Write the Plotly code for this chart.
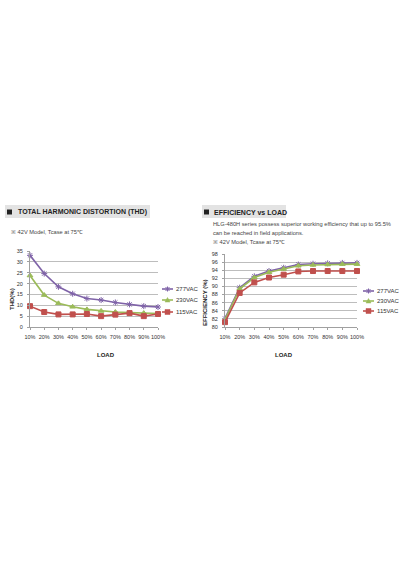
import plotly.graph_objects as go

W, H = 400, 567

loads = [10, 20, 30, 40, 50, 60, 70, 80, 90, 100]
load_labels = ["10%", "20%", "30%", "40%", "50%", "60%", "70%", "80%", "90%", "100%"]

thd_277 = [33.0, 24.6, 18.5, 15.3, 13.1, 12.4, 11.3, 10.4, 9.6, 9.2]
thd_230 = [23.7, 14.7, 10.9, 9.3, 8.1, 7.4, 6.9, 6.6, 6.4, 6.2]
thd_115 = [9.6, 6.9, 5.8, 5.8, 6.0, 5.0, 5.7, 6.4, 5.0, 6.0]

eff_277 = [82.1, 89.7, 92.5, 93.8, 94.6, 95.4, 95.6, 95.7, 95.8, 95.8]
eff_230 = [81.8, 89.4, 92.2, 93.5, 94.3, 95.1, 95.3, 95.4, 95.5, 95.5]
eff_115 = [81.2, 88.4, 91.0, 92.2, 92.9, 93.7, 93.8, 93.8, 93.8, 93.8]

series_names = ["277VAC", "230VAC", "115VAC"]
colors = ["#7f63a8", "#9bbb59", "#c0504d"]
symbols = ["asterisk-open", "triangle-up", "square"]


def px(x):
    return x / W


def py(y):
    return 1 - y / H


fig = go.Figure()

for vals, name, c, s in zip([thd_277, thd_230, thd_115], series_names, colors, symbols):
    fig.add_trace(go.Scatter(
        x=loads, y=vals, mode="lines+markers", name=name, showlegend=False,
        cliponaxis=False,
        line=dict(color=c, width=1.6),
        marker=dict(symbol=s, size=5, color=c, line=dict(color=c, width=1)),
        xaxis="x", yaxis="y"))

for vals, name, c, s in zip([eff_277, eff_230, eff_115], series_names, colors, symbols):
    fig.add_trace(go.Scatter(
        x=loads, y=vals, mode="lines+markers", name=name, showlegend=False,
        cliponaxis=False,
        line=dict(color=c, width=1.6),
        marker=dict(symbol=s, size=5, color=c, line=dict(color=c, width=1)),
        xaxis="x2", yaxis="y2"))

tickfont = dict(family="Liberation Sans, Arial", size=5.5, color="#333333")
axis_common = dict(gridcolor="#bdbdbd", gridwidth=1, automargin=False,
                   showline=True, linecolor="#a0a0a0", linewidth=1,
                   zeroline=False, ticks="outside", ticklen=2, tickcolor="#a0a0a0",
                   tickfont=tickfont, fixedrange=True)

fig.update_layout(
    template="none",
    width=W, height=H, margin=dict(l=0, r=0, t=0, b=0, pad=0), autosize=False,
    paper_bgcolor="white", plot_bgcolor="white",
    xaxis=dict(domain=[px(30), px(158)], range=[10, 100], tickvals=loads,
               ticktext=load_labels, showgrid=False, anchor="y", tickangle=0,
               ticklabelstandoff=2, **axis_common),
    yaxis=dict(domain=[py(327), py(251)], range=[0, 35], dtick=5, anchor="x",
               showgrid=True, ticklabelstandoff=3, **axis_common),
    xaxis2=dict(domain=[px(225), px(357)], range=[10, 100], tickvals=loads,
                ticktext=load_labels, showgrid=False, anchor="y2", tickangle=0,
                ticklabelstandoff=2, **axis_common),
    yaxis2=dict(domain=[py(327), py(254)], range=[80, 98], dtick=2, anchor="x2",
                showgrid=True, ticklabelstandoff=3, **axis_common),
)

shapes = []
annotations = []

# title bars
shapes.append(dict(type="rect", xref="paper", yref="paper", x0=px(5), x1=px(150),
                   y0=py(218), y1=py(205), fillcolor="#e3e3e3", line=dict(width=0), layer="below"))
shapes.append(dict(type="rect", xref="paper", yref="paper", x0=px(202), x1=px(286),
                   y0=py(218), y1=py(205), fillcolor="#e3e3e3", line=dict(width=0), layer="below"))
for x0 in (7, 204):
    shapes.append(dict(type="rect", xref="paper", yref="paper", x0=px(x0), x1=px(x0 + 5),
                       y0=py(214.5), y1=py(209.5), fillcolor="#222222", line=dict(width=0)))

title_font = dict(family="Liberation Sans, Arial", size=7, color="#222222")
annotations.append(dict(text="<b>TOTAL HARMONIC DISTORTION (THD)</b>", x=px(16), y=py(212),
                        xref="paper", yref="paper", xanchor="left", yanchor="middle",
                        showarrow=False, font=title_font))
annotations.append(dict(text="<b>EFFICIENCY vs LOAD</b>", x=px(212), y=py(212),
                        xref="paper", yref="paper", xanchor="left", yanchor="middle",
                        showarrow=False, font=title_font))

small = dict(family="Liberation Sans, Arial", size=5.7, color="#444444")
annotations.append(dict(text="※ 42V Model, Tcase at 75℃", x=px(9), y=py(232),
                        xref="paper", yref="paper", xanchor="left", yanchor="middle",
                        showarrow=False, font=small))
annotations.append(dict(text="HLG-480H series possess superior working efficiency that up to 95.5%",
                        x=px(211), y=py(224), xref="paper", yref="paper", xanchor="left",
                        yanchor="middle", showarrow=False, font=small))
annotations.append(dict(text="can be reached in field applications.",
                        x=px(211), y=py(233), xref="paper", yref="paper", xanchor="left",
                        yanchor="middle", showarrow=False, font=small))
annotations.append(dict(text="※ 42V Model, Tcase at 75℃", x=px(211), y=py(242),
                        xref="paper", yref="paper", xanchor="left", yanchor="middle",
                        showarrow=False, font=small))

bold_small = dict(family="Liberation Sans, Arial", size=6, color="#222222")
annotations.append(dict(text="<b>THD(%)</b>", x=px(7), y=py(299), xref="paper", yref="paper",
                        textangle=-90, showarrow=False, font=bold_small))
annotations.append(dict(text="<b>EFFICIENCY (%)</b>", x=px(205), y=py(302), xref="paper",
                        yref="paper", textangle=-90, showarrow=False, font=bold_small))
annotations.append(dict(text="<b>LOAD</b>", x=px(95), y=py(355), xref="paper", yref="paper",
                        showarrow=False, font=bold_small))
annotations.append(dict(text="<b>LOAD</b>", x=px(295), y=py(355), xref="paper", yref="paper",
                        showarrow=False, font=bold_small))

# manual legends
legend_font = dict(family="Liberation Sans, Arial", size=6, color="#333333")
for lx, ly_list in ((162, [289, 300, 312]), (363, [291, 301, 311])):
    for i, (name, c) in enumerate(zip(series_names, colors)):
        ly = ly_list[i]
        shapes.append(dict(type="line", xref="paper", yref="paper", x0=px(lx), x1=px(lx + 11),
                           y0=py(ly), y1=py(ly), line=dict(color=c, width=1.6)))
        cx = lx + 5.5
        if i == 0:
            for dx, dy in ((-2, -2), (-2, 2)):
                shapes.append(dict(type="line", xref="paper", yref="paper",
                                   x0=px(cx + dx), x1=px(cx - dx), y0=py(ly + dy), y1=py(ly - dy),
                                   line=dict(color=c, width=1)))
            shapes.append(dict(type="line", xref="paper", yref="paper",
                               x0=px(cx), x1=px(cx), y0=py(ly - 2.5), y1=py(ly + 2.5),
                               line=dict(color=c, width=1)))
        elif i == 1:
            path = f"M {px(cx - 2.5)} {py(ly + 2)} L {px(cx + 2.5)} {py(ly + 2)} L {px(cx)} {py(ly - 2.5)} Z"
            shapes.append(dict(type="path", xref="paper", yref="paper", path=path,
                               fillcolor=c, line=dict(color=c, width=0.5)))
        else:
            shapes.append(dict(type="rect", xref="paper", yref="paper",
                               x0=px(cx - 2.5), x1=px(cx + 2.5), y0=py(ly + 2.5), y1=py(ly - 2.5),
                               fillcolor=c, line=dict(color=c, width=0.5)))
        annotations.append(dict(text=name, x=px(lx + 12), y=py(ly), xref="paper", yref="paper",
                                xanchor="left", yanchor="middle", showarrow=False, font=legend_font))

fig.update_layout(shapes=shapes, annotations=annotations)

fig.write_html("out.html")
